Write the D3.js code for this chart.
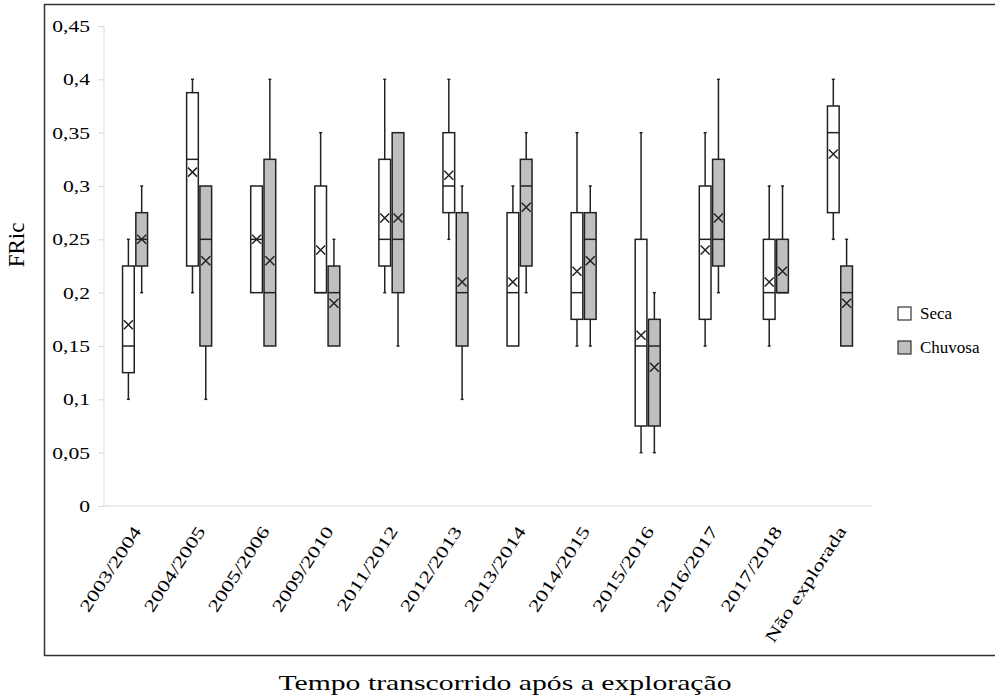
<!DOCTYPE html>
<html>
<head>
<meta charset="utf-8">
<script src="https://cdn.jsdelivr.net/npm/d3@7"></script>
<style>
  body { margin: 0; background: #fff; }
  text { font-family: "Liberation Serif", "Times New Roman", serif; fill: #000; }
</style>
</head>
<body>
<div id="chart-container"></div>
<script>
// categories and box values
var categories = ["2003/2004", "2004/2005", "2005/2006", "2009/2010", "2011/2012", "2012/2013",
                  "2013/2014", "2014/2015", "2015/2016", "2016/2017", "2017/2018", "Não explorada"];
var seriesNames = ["Seca", "Chuvosa"];

// Seca
var secaLow    = [0.1,   0.2,    0.2,  0.2,  0.2,   0.25,  0.15,  0.15,  0.05,  0.15,  0.15,  0.25];
var secaQ1     = [0.125, 0.225,  0.2,  0.2,  0.225, 0.275, 0.15,  0.175, 0.075, 0.175, 0.175, 0.275];
var secaMedian = [0.15,  0.325,  0.25, 0.2,  0.25,  0.3,   0.2,   0.2,   0.15,  0.25,  0.2,   0.35];
var secaQ3     = [0.225, 0.3875, 0.3,  0.3,  0.325, 0.35,  0.275, 0.275, 0.25,  0.3,   0.25,  0.375];
var secaHigh   = [0.25,  0.4,    0.3,  0.35, 0.4,   0.4,   0.3,   0.35,  0.35,  0.35,  0.3,   0.4];
var secaMean   = [0.17,  0.313,  0.25, 0.24, 0.27,  0.31,  0.21,  0.22,  0.16,  0.24,  0.21,  0.33];

// Chuvosa
var chuvLow    = [0.2,   0.1,  0.15,  0.15,  0.15, 0.1,   0.2,   0.15,  0.05,  0.2,   0.2,  0.15];
var chuvQ1     = [0.225, 0.15, 0.15,  0.15,  0.2,  0.15,  0.225, 0.175, 0.075, 0.225, 0.2,  0.15];
var chuvMedian = [0.25,  0.25, 0.2,   0.2,   0.25, 0.2,   0.3,   0.25,  0.15,  0.25,  0.2,  0.2];
var chuvQ3     = [0.275, 0.3,  0.325, 0.225, 0.35, 0.275, 0.325, 0.275, 0.175, 0.325, 0.25, 0.225];
var chuvHigh   = [0.3,   0.3,  0.4,   0.25,  0.35, 0.3,   0.35,  0.3,   0.2,   0.4,   0.3,  0.25];
var chuvMean   = [0.25,  0.23, 0.23,  0.19,  0.27, 0.21,  0.28,  0.23,  0.13,  0.27,  0.22, 0.19];

var yTicks = [0, 0.05, 0.1, 0.15, 0.2, 0.25, 0.3, 0.35, 0.4, 0.45];
var fills = { "Seca": "#ffffff", "Chuvosa": "#bfbfbf" };

var W = 995, H = 699;

var svg = d3.select("#chart-container")
    .append("svg")
    .attr("width", W)
    .attr("height", H);

// outer frame (right side runs off the picture)
svg.append("rect")
    .attr("x", 44.5).attr("y", 4.5)
    .attr("width", 1000).attr("height", 651)
    .attr("fill", "none")
    .attr("stroke", "#333")
    .attr("stroke-width", 1.5);

// scales
var x = d3.scaleBand().domain(categories).range([103, 872]);
var inner = d3.scaleBand().domain(seriesNames).range([-12.5, 12.5]).paddingInner(0.12);
var y = d3.scaleLinear().domain([0, 0.45]).range([506, 26]);

function fmt(v) { return String(+v.toFixed(2)).replace(".", ","); }

// widen text along its baseline
function stretch(sel, k) {
  sel.each(function() {
    var len = this.getComputedTextLength();
    d3.select(this).attr("textLength", len * k).attr("lengthAdjust", "spacingAndGlyphs");
  });
}

// y axis
var yAxis = svg.append("g")
    .attr("transform", "translate(104,0)")
    .call(d3.axisLeft(y).tickValues(yTicks).tickFormat(fmt).tickSize(6).tickPadding(8));
yAxis.select(".domain").attr("stroke", "#d9d9d9").attr("d", "M0," + y(0.45) + "V" + y(0));
yAxis.selectAll(".tick line").attr("stroke", "#d9d9d9");
yAxis.selectAll(".tick text")
    .style("font-family", "Liberation Serif")
    .style("font-size", "17px")
    .attr("fill", "#000");
stretch(yAxis.selectAll(".tick text"), 1.27);

// baseline
svg.append("line")
    .attr("x1", 104).attr("x2", 872)
    .attr("y1", y(0)).attr("y2", y(0))
    .attr("stroke", "#d9d9d9");

// build rows for drawing
var rows = [];
categories.forEach(function(c, i) {
  rows.push({ cat: c, s: "Seca", lo: secaLow[i], q1: secaQ1[i], med: secaMedian[i], q3: secaQ3[i], hi: secaHigh[i], mean: secaMean[i] });
  rows.push({ cat: c, s: "Chuvosa", lo: chuvLow[i], q1: chuvQ1[i], med: chuvMedian[i], q3: chuvQ3[i], hi: chuvHigh[i], mean: chuvMean[i] });
});

var bw = inner.bandwidth();
var boxes = svg.selectAll(".box")
    .data(rows)
    .enter().append("g")
    .attr("class", "box")
    .attr("transform", function(d) { return "translate(" + (x(d.cat) + x.bandwidth() / 2 + inner(d.s)) + ",0)"; });

// whiskers
boxes.filter(function(d) { return d.hi > d.q3; }).append("line")
    .attr("x1", bw / 2).attr("x2", bw / 2)
    .attr("y1", function(d) { return y(d.hi); })
    .attr("y2", function(d) { return y(d.q3); })
    .attr("stroke", "#222").attr("stroke-width", 1.5);
boxes.filter(function(d) { return d.hi > d.q3; }).append("line")
    .attr("x1", bw / 2 - 1.5).attr("x2", bw / 2 + 1.5)
    .attr("y1", function(d) { return y(d.hi); })
    .attr("y2", function(d) { return y(d.hi); })
    .attr("stroke", "#222").attr("stroke-width", 1.5);
boxes.filter(function(d) { return d.lo < d.q1; }).append("line")
    .attr("x1", bw / 2).attr("x2", bw / 2)
    .attr("y1", function(d) { return y(d.q1); })
    .attr("y2", function(d) { return y(d.lo); })
    .attr("stroke", "#222").attr("stroke-width", 1.5);
boxes.filter(function(d) { return d.lo < d.q1; }).append("line")
    .attr("x1", bw / 2 - 1.5).attr("x2", bw / 2 + 1.5)
    .attr("y1", function(d) { return y(d.lo); })
    .attr("y2", function(d) { return y(d.lo); })
    .attr("stroke", "#222").attr("stroke-width", 1.5);

// box
boxes.append("rect")
    .attr("x", 0)
    .attr("width", bw)
    .attr("y", function(d) { return y(d.q3); })
    .attr("height", function(d) { return y(d.q1) - y(d.q3); })
    .attr("fill", function(d) { return fills[d.s]; })
    .attr("stroke", "#222")
    .attr("stroke-width", 1.5);

// median
boxes.append("line")
    .attr("x1", 0).attr("x2", bw)
    .attr("y1", function(d) { return y(d.med); })
    .attr("y2", function(d) { return y(d.med); })
    .attr("stroke", "#222").attr("stroke-width", 1.5);

// mean marker (X)
var m = 4.5;
boxes.append("path")
    .attr("d", function(d) {
      var cx = bw / 2, cy = y(d.mean);
      return "M" + (cx - m) + "," + (cy - m) + "L" + (cx + m) + "," + (cy + m) +
             "M" + (cx - m) + "," + (cy + m) + "L" + (cx + m) + "," + (cy - m);
    })
    .attr("stroke", "#222").attr("stroke-width", 1.5).attr("fill", "none");

// x labels, rotated
var xl = svg.selectAll(".xlab")
    .data(categories)
    .enter().append("text")
    .attr("class", "xlab")
    .attr("text-anchor", "end")
    .attr("transform", function(d) { return "translate(" + (x(d) + x.bandwidth() / 2 + 7) + ",531) rotate(-57)"; })
    .style("font-size", "17px")
    .text(function(d) { return d; });
stretch(xl, 1.35);

// axis titles
svg.append("text")
    .attr("transform", "translate(24,245) rotate(-90)")
    .attr("text-anchor", "middle")
    .style("font-size", "23px")
    .text("FRic");

var xt = svg.append("text")
    .attr("x", 505).attr("y", 690)
    .attr("text-anchor", "middle")
    .style("font-size", "22px")
    .text("Tempo transcorrido após a exploração");
stretch(xt, 1.35);

// legend
var legend = svg.selectAll(".legend")
    .data(seriesNames)
    .enter().append("g")
    .attr("class", "legend")
    .attr("transform", function(d, i) { return "translate(898," + (307 + i * 34) + ")"; });
legend.append("rect")
    .attr("width", 13).attr("height", 13)
    .attr("fill", function(d) { return fills[d]; })
    .attr("stroke", "#333").attr("stroke-width", 1.2);
legend.append("text")
    .attr("x", 22).attr("y", 12)
    .style("font-size", "17px")
    .text(function(d) { return d; });
</script>
</body>
</html>
